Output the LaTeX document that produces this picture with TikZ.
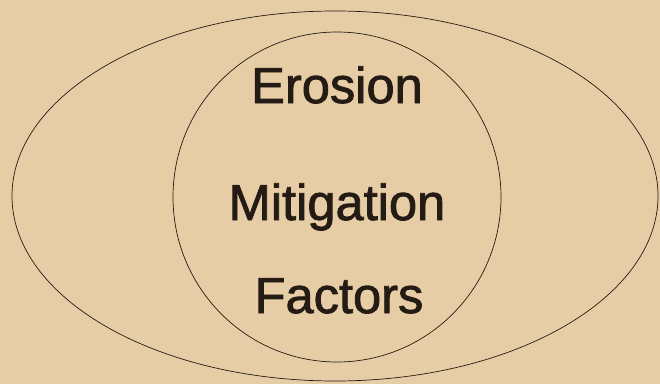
\documentclass[tikz,border=0pt]{standalone}
\usepackage{fontspec}
\setmainfont{Liberation Sans}
\newfontfamily\wordfont[BoldFont=Liberation Sans, BoldFeatures={FakeBold=1.6}]{Liberation Sans}
\usepackage{tikz}
\usetikzlibrary{positioning}

\definecolor{paper}{RGB}{231,205,166}
\definecolor{ink}{RGB}{36,28,20}

\tikzset{
    rim/.style={draw=ink, line width=1pt},
    word/.style={anchor=base, text=ink, font=\wordfont\bfseries\fontsize{72}{80}\selectfont}
}

\begin{document}
\begin{tikzpicture}[x=0.05cm, y=-0.05cm]

% Background
\fill[paper] (0,0) rectangle (660,384);
\useasboundingbox (0,0) rectangle (660,384);

% Outer ellipse
\draw[rim] (335,196) ellipse (323 and 185);

% Inner circle
\draw[rim] (337,197) ellipse (164 and 165);

% Labels
\node[word] (erosion) at (337,103) {Erosion};
\node[word] (mitigation) at (337,220) {Mitigation};
\node[word] (factors) at (339,313) {Factors};

\end{tikzpicture}
\end{document}
